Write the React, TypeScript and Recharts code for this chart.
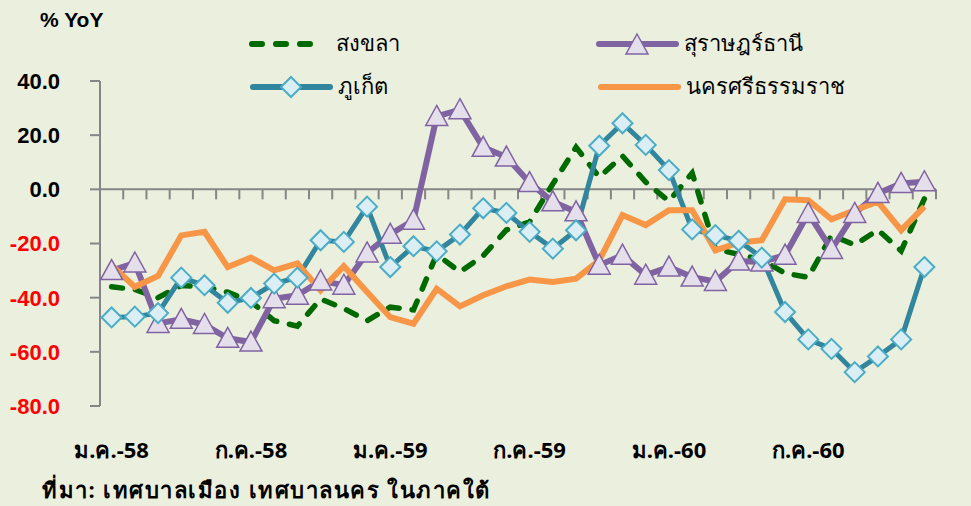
import React from "react";
import { LineChart, Line, XAxis, YAxis, ReferenceLine } from "recharts";

const MONTHS = ["ม.ค.", "ก.พ.", "มี.ค.", "เม.ย.", "พ.ค.", "มิ.ย.", "ก.ค.", "ส.ค.", "ก.ย.", "ต.ค.", "พ.ย.", "ธ.ค."];
const YEARS = ["58", "59", "60"];
const CATEGORIES = YEARS.flatMap((y) => MONTHS.map((m) => `${m}-${y}`));
const LABELLED = [0, 6, 12, 18, 24, 30];
const Y_TICKS = [-80, -60, -40, -20, 0, 20, 40];

// % YoY by month, ม.ค.-58 .. ธ.ค.-60
const SONGKHLA = [
  -36, -37, -40, -35.5, -36, -38, -41.5, -48.5, -50.5, -40.5, -44, -48.5,
  -43.5, -44.5, -24, -30.5, -24.5, -15, -12, 2, 15.5, 4.5, 12.3, 2.7,
  -4.4, 6, -22, -24, -26, -31, -32.5, -17, -20.5, -15, -22.7, -3.5,
];
const SURAT = [
  -30, -27.2, -49.5, -48, -49.9, -55, -56.4, -40.4, -39.1, -33.8, -35.4, -23.5,
  -16.6, -11.4, 26.9, 29.4, 15.5, 11.9, 2.5, -4.6, -8.3, -28, -24.3, -31.7,
  -28.7, -32.4, -34, -26.5, -26.8, -24.3, -8.9, -22.2, -8.9, -1.5, 2.2, 2.8,
];
const PHUKET = [
  -47.3, -47, -45.7, -32.6, -35.4, -41.9, -40.1, -34.8, -32.6, -18.8, -19.4, -6.4,
  -28.7, -21, -22.9, -16.7, -7, -8.7, -15.7, -21.9, -15.1, 16.1, 24.4, 16.4,
  7.1, -14.8, -16.9, -19, -25.2, -45.3, -55.4, -58.9, -67.5, -61.7, -55.4, -28.7,
];
const NAKHON = [
  -28, -36, -32, -17, -15.7, -28.7, -25.2, -29.9, -27.4, -37.3, -28.4, -37.9,
  -47.2, -49.6, -36.7, -43.2, -39.1, -35.8, -33.3, -34.2, -33, -26.2, -9.5, -13.2,
  -7.7, -7.7, -22.5, -19.7, -18.8, -3.7, -4, -11.1, -7.7, -4.6, -15.1, -6.4,
];

const BG = "#EBEFDE";
const AXIS = "#868686";
const GREEN = "#006A00";
const PURPLE = "#8064A2";
const TEAL = "#31859C";
const ORANGE = "#F79646";
const THAI = "Tahoma, 'Noto Sans', 'DejaVu Sans', sans-serif";
const LATIN = "'Liberation Sans', Arial, sans-serif";

const data = CATEGORIES.map((c, i) => ({
  x: i + 0.5,
  label: c,
  songkhla: SONGKHLA[i],
  surat: SURAT[i],
  phuket: PHUKET[i],
  nakhon: NAKHON[i],
}));

const TriangleDot = (p: any) => {
  const { cx, cy } = p;
  if (cx == null || cy == null) return null;
  return (
    <path
      d={`M${cx},${cy - 11} L${cx + 11},${cy + 9} L${cx - 11},${cy + 9} Z`}
      fill="#E5DFEC"
      stroke={PURPLE}
      strokeWidth={1.5}
    />
  );
};

const DiamondDot = (p: any) => {
  const { cx, cy } = p;
  if (cx == null || cy == null) return null;
  return (
    <path
      d={`M${cx},${cy - 10} L${cx + 10},${cy} L${cx},${cy + 10} L${cx - 10},${cy} Z`}
      fill="#DBEEF4"
      stroke="#4BACC6"
      strokeWidth={2}
    />
  );
};

const YTick = (p: any) => {
  const v = p.payload.value;
  return (
    <text
      x={p.x - 28}
      y={p.y}
      dy="0.36em"
      textAnchor="end"
      fontFamily={LATIN}
      fontWeight="bold"
      fontSize={22}
      fill={v < 0 ? "#FF0000" : "#000"}
    >
      {v.toFixed(1)}
    </text>
  );
};

const XTick = (p: any) => {
  const idx = Math.floor(p.payload.value);
  return (
    <text
      x={p.x}
      y={p.y + 44}
      dy="0.36em"
      textAnchor="middle"
      fontFamily={THAI}
      fontWeight="bold"
      fontSize={22}
      fill="#000"
    >
      {CATEGORIES[idx]}
    </text>
  );
};

const LegendItem = ({ left, top, kind, color, label }: any) => (
  <div style={{ position: "absolute", left, top, display: "flex", alignItems: "center" }}>
    <svg width={86} height={24}>
      {kind === "dash" ? (
        <line x1={4} y1={12} x2={74} y2={12} stroke={color} strokeWidth={6} strokeDasharray="10 14" strokeLinecap="round" />
      ) : (
        <line x1={3} y1={12} x2={80} y2={12} stroke={color} strokeWidth={6} strokeLinecap="round" />
      )}
      {kind === "tri" && <TriangleDot cx={41} cy={13} />}
      {kind === "dia" && <DiamondDot cx={41} cy={12} />}
    </svg>
    <span style={{ fontFamily: THAI, fontSize: 22, color: "#000", marginLeft: 2 }}>{label}</span>
  </div>
);

export default function App() {
  return (
    <div style={{ position: "absolute", left: 0, top: 0, width: 971, height: 506, background: BG, overflow: "hidden" }}>
      <LineChart width={971} height={506} data={data} margin={{ top: 81, right: 35, left: 0, bottom: 0 }}>
        <XAxis
          dataKey="x"
          type="number"
          domain={[0, 36]}
          ticks={LABELLED.map((i) => i + 0.5)}
          interval={0}
          height={100}
          axisLine={false}
          tickLine={false}
          tickSize={0}
          tickMargin={0}
          tick={<XTick />}
        />
        <YAxis
          domain={[-80, 40]}
          ticks={Y_TICKS}
          interval={0}
          width={100}
          axisLine={{ stroke: AXIS, strokeWidth: 2 }}
          tickLine={{ stroke: AXIS, strokeWidth: 2 }}
          tickSize={10}
          tick={<YTick />}
        />
        <ReferenceLine y={0} stroke={AXIS} strokeWidth={2} />
        {Array.from({ length: 37 }, (_, i) => (
          <ReferenceLine key={i} segment={[{ x: i, y: 0 }, { x: i, y: -3.7 }]} stroke={AXIS} strokeWidth={2} />
        ))}
        <Line
          dataKey="songkhla"
          stroke={GREEN}
          strokeWidth={5.5}
          strokeDasharray="11 13"
          strokeLinecap="round"
          dot={false}
          isAnimationActive={false}
        />
        <Line
          dataKey="surat"
          stroke={PURPLE}
          strokeWidth={6}
          dot={(p: any) => <TriangleDot key={p.index} {...p} />}
          isAnimationActive={false}
        />
        <Line
          dataKey="phuket"
          stroke={TEAL}
          strokeWidth={5}
          dot={(p: any) => <DiamondDot key={p.index} {...p} />}
          isAnimationActive={false}
        />
        <Line dataKey="nakhon" stroke={ORANGE} strokeWidth={6} dot={false} isAnimationActive={false} />
      </LineChart>

      <div style={{ position: "absolute", left: 40, top: 8, fontFamily: LATIN, fontWeight: "bold", fontSize: 21 }}>
        % YoY
      </div>
      <LegendItem left={248} top={26} kind="dash" color={GREEN} label="สงขลา" />
      <LegendItem left={596} top={26} kind="tri" color={PURPLE} label="สุราษฎร์ธานี" />
      <LegendItem left={250} top={69} kind="dia" color={TEAL} label="ภูเก็ต" />
      <LegendItem left={598} top={69} kind="line" color={ORANGE} label="นครศรีธรรมราช" />
      <div
        style={{
          position: "absolute",
          left: 42,
          top: 476,
          fontFamily: THAI,
          fontWeight: "bold",
          fontSize: 22,
          lineHeight: "26px",
          letterSpacing: 1.5,
          whiteSpace: "nowrap",
        }}
      >
        ที่มา: เทศบาลเมือง เทศบาลนคร ในภาคใต้
      </div>
    </div>
  );
}
